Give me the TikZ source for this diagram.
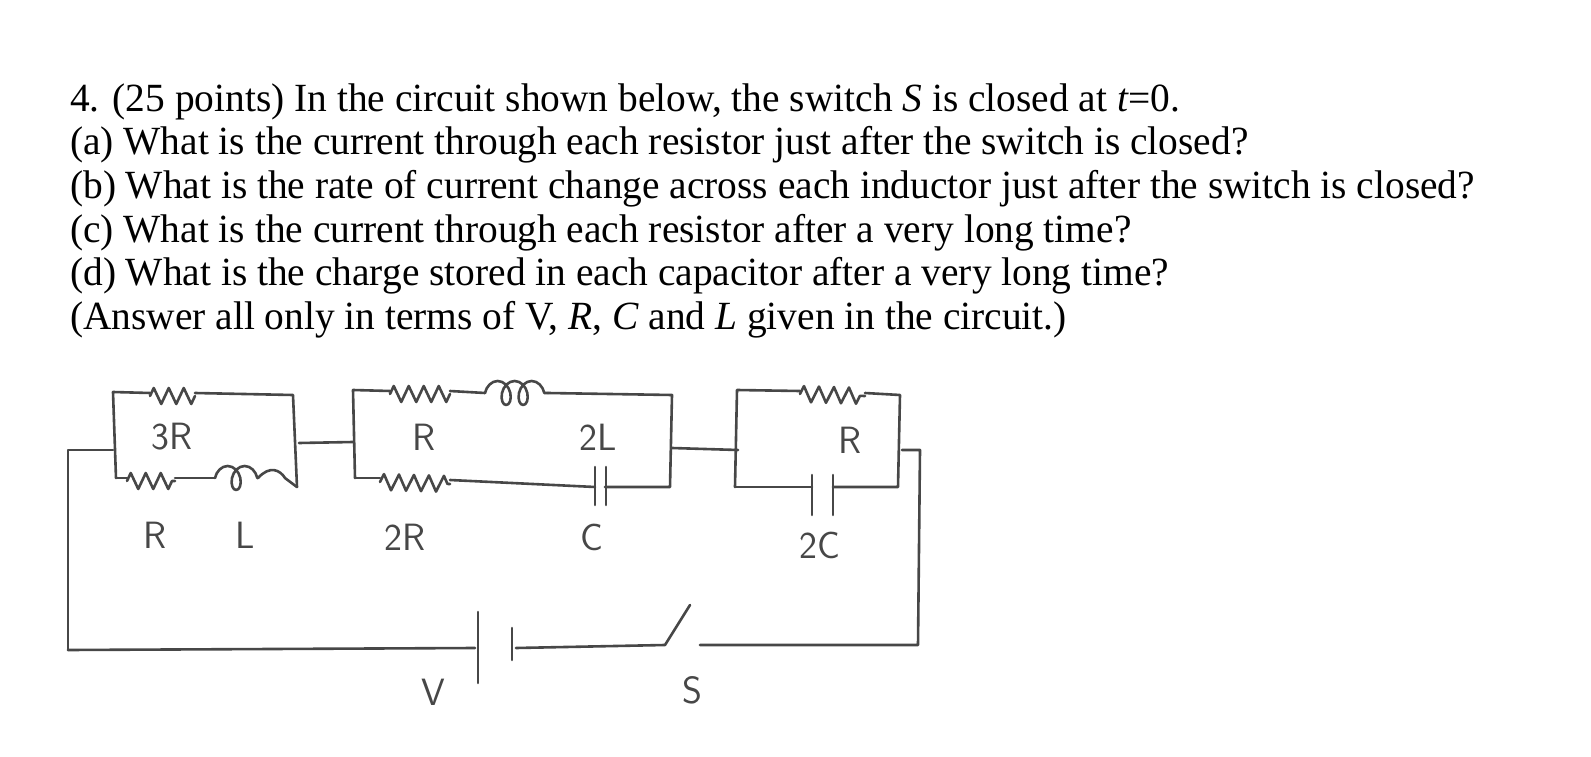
\documentclass[tikz,border=0pt]{standalone}
\usepackage{fontspec}
\setmainfont{Liberation Serif}
\usetikzlibrary{decorations.pathmorphing}
\begin{document}
\begin{tikzpicture}[x=1pt,y=-1pt,
  wire/.style={line width=2.6pt,draw=black!72,line join=round,line cap=round},
  res/.style={wire,decorate,decoration={zigzag,amplitude=8pt,segment length=15pt}},
  ind/.style={wire,decorate,decoration={coil,amplitude=12pt,segment length=17pt,aspect=0.7}},
  hand/.style={font=\sffamily\fontsize{38}{38}\selectfont,text=black!72},
  q/.style={anchor=base west,font=\fontsize{40}{40}\selectfont,inner sep=0,xscale=0.985}]
\useasboundingbox (0,0) rectangle (1591,757);
\node[q] (l1) at (70,112) {4. (25 points) In the circuit shown below, the switch \textit{S} is closed at \textit{t}=0.};
\node[q] (l2) at (70,155) {(a) What is the current through each resistor just after the switch is closed?};
\node[q] (l3) at (70,199) {(b) What is the rate of current change across each inductor just after the switch is closed?};
\node[q] (l4) at (70,242) {(c) What is the current through each resistor after a very long time?};
\node[q] (l5) at (70,285) {(d) What is the charge stored in each capacitor after a very long time?};
\node[q] (l6) at (70,329) {(Answer all only in terms of V, \textit{R}, \textit{C} and \textit{L} given in the circuit.)};
% block 1
\coordinate (a1) at (113,450);
\draw[wire] (68,650) -- (68,450) -- (a1);
\draw[wire] (116,478) -- (113,392) -- (150,393);
\draw[res] (150,396) -- (195,396);
\draw[wire] (195,393) -- (293,395) -- (297,487);
\draw[wire] (116,478) -- (127,478);
\draw[res] (127,481) -- (175,481);
\draw[wire] (175,478) -- (215,478);
\draw[ind] (215,478) -- (258,478);
\draw[wire] (258,478) .. controls (270,465) and (280,470) .. (285,478) -- (297,487);
\node[hand] (t3R) at (172,437) {3R};
\node[hand] (tR1) at (155,535) {R};
\node[hand] (tL1) at (245,535) {L};
% link
\draw[wire] (299,443) -- (353,442);
% block 2
\draw[wire] (355,478) -- (353,390) -- (390,391);
\draw[res] (390,394) -- (450,394);
\draw[wire] (450,391) -- (485,393);
\draw[ind] (485,393) -- (548,393);
\draw[wire] (548,393) -- (672,395) -- (670,487) -- (605,487);
\draw[wire] (355,478) -- (380,478);
\draw[res] (380,482) -- (450,484);
\draw[wire] (450,480) -- (595,487);
\draw[wire] (595,467) -- (595,505) (606,467) -- (606,505);
\node[hand] (tR2) at (424,437) {R};
\node[hand] (t2L) at (598,437) {2L};
\node[hand] (t2R) at (405,537) {2R};
\node[hand] (tC) at (592,537) {C};
% link
\draw[wire] (672,448) -- (738,450);
% block 3
\draw[wire] (735,487) -- (737,390) -- (800,391);
\draw[res] (800,394) -- (865,396);
\draw[wire] (865,393) -- (900,395) -- (898,487) -- (833,487);
\draw[wire] (735,487) -- (812,487);
\draw[wire] (812,475) -- (812,515) (833,475) -- (833,515);
\node[hand] (tR3) at (850,440) {R};
\node[hand] (t2C) at (820,545) {2C};
% outer loop
\draw[wire] (902,450) -- (920,450) -- (918,645) -- (700,645);
\draw[wire] (68,650) -- (475,648);
\draw[wire] (478,612) -- (478,683) (512,628) -- (512,660);
\draw[wire] (516,648) -- (665,645) -- (690,605);
\node[hand] (tV) at (433,692) {V};
\node[hand] (tS) at (692,690) {S};
\end{tikzpicture}
\end{document}
